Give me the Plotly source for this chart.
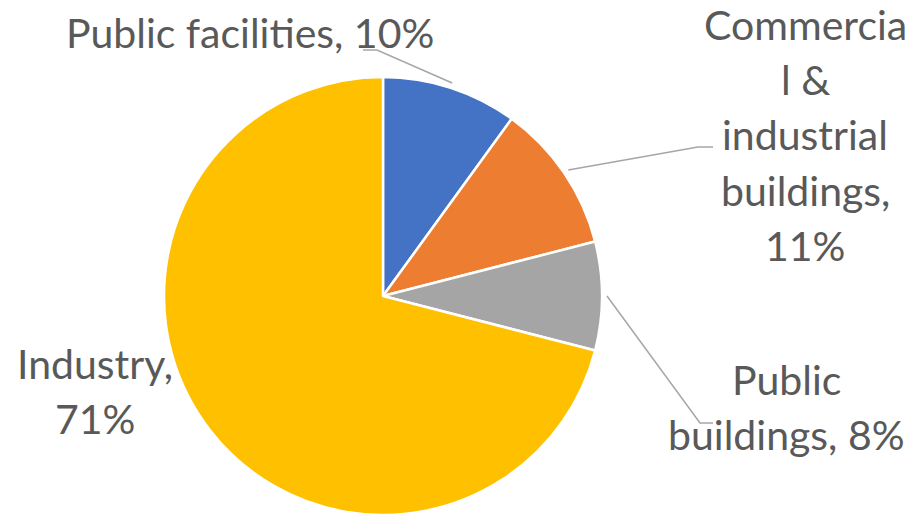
import numpy as np
import plotly.graph_objects as go

# ---- data ----
categories = ["Public facilities", "Commercial & industrial buildings", "Public buildings", "Industry"]
values = [10, 11, 8, 71]
label_lines = [
    ["Public facilities, 10%"],
    ["Commercia", "l &", "industrial", "buildings,", "11%"],
    ["Public", "buildings, 8%"],
    ["Industry,", "71%"],
]
colors = ["#4472C4", "#ED7D31", "#A5A5A5", "#FFC000"]

# ---- layout constants (pixels) ----
W, H = 917, 517
CX, CY, R = 383, 296, 219
FONT = "Lato, Carlito, Calibri, sans-serif"
FSIZE = 41
TXT = "#595959"
LINE_H = 55.5

def px(x):
    return x / W

def py(y):
    return 1 - y / H

fig = go.Figure()
fig.add_trace(go.Pie(
    labels=categories, values=values, sort=False, direction="clockwise", rotation=0,
    marker=dict(colors=colors, line=dict(color="white", width=2.5)),
    textinfo="none", hoverinfo="label+percent", showlegend=False,
    domain=dict(x=[px(CX - R), px(CX + R)], y=[py(CY + R), py(CY - R)]),
))

# label placement (center x, center y of first line) and leader elbow/end
label_pos = [(250, 32), (805, 24), (786, 379), (95, 363)]
leaders = [((377, 50), (363, 50)), ((698, 147), (713, 147)), ((700, 423), (713, 423)), None]

for lines, (lx, ly) in zip(label_lines, label_pos):
    for i, t in enumerate(lines):
        fig.add_annotation(x=px(lx), y=py(ly + i * LINE_H), xref="paper", yref="paper",
                           text=t, showarrow=False, xanchor="center", yanchor="middle",
                           font=dict(family=FONT, size=FSIZE, color=TXT))

total = sum(values)
cum = np.cumsum([0] + values)
for k, ld in enumerate(leaders):
    if ld is None:
        continue
    mid = (cum[k] + cum[k + 1]) / 2 / total * 2 * np.pi
    sx = CX + (R + 5) * np.sin(mid)
    sy = CY - (R + 5) * np.cos(mid)
    (ex, ey), (fx, fy) = ld
    path = f"M {px(sx)} {py(sy)} L {px(ex)} {py(ey)} L {px(fx)} {py(fy)}"
    fig.add_shape(type="path", path=path, xref="paper", yref="paper",
                  line=dict(color="#A6A6A6", width=1.5))

fig.update_layout(width=W, height=H, margin=dict(l=0, r=0, t=0, b=0),
                  paper_bgcolor="white", plot_bgcolor="white")
fig.write_html("out.html")
